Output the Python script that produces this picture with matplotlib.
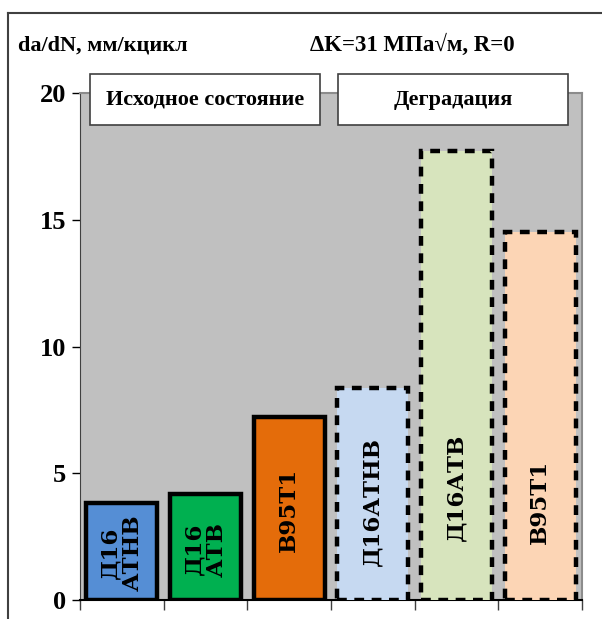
import matplotlib.pyplot as plt
from matplotlib.patches import Rectangle
from matplotlib.lines import Line2D

# Crack growth rate data (da/dN, мм/кцикл)
alloys = ["Д16\nАТНВ", "Д16\nАТВ", "В95Т1", "Д16АТНВ", "Д16АТВ", "В95Т1"]
rates = [3.83, 4.18, 7.2, 8.35, 17.7, 14.5]
states = ["Исходное состояние", "Деградация"]
y_ticks = [0, 5, 10, 15, 20]

fill_colors = ["#558ED5", "#00B050", "#E46C0A", "#C6D9F1", "#D7E4BD", "#FCD5B5"]
edge_styles = ["solid", "solid", "solid", (0, (2.2, 1.7)), (0, (2.2, 1.7)), (0, (2.2, 1.7))]
label_y = [1.85, 2.0, 3.55, 3.87, 4.46, 3.87]

W, H = 602, 619
fig = plt.figure(figsize=(W / 100, H / 100), dpi=100)
fig.patch.set_facecolor("white")

ax = fig.add_axes([80 / W, 1 - 600 / H, (582 - 80) / W, (600 - 93) / H])
ax.set_facecolor("#C0C0C0")

x = list(range(len(rates)))
for i, (v, fc, ls) in enumerate(zip(rates, fill_colors, edge_styles)):
    ax.bar(x[i], v, width=0.85, color=fc, edgecolor="black", linewidth=3.2,
           linestyle=ls, zorder=3)
    ax.text(x[i], label_y[i], alloys[i], rotation=90, ha="center", va="center",
            family="DejaVu Serif", fontweight="bold", fontsize=16.5,
            linespacing=1.0, zorder=4)

ax.set_xlim(-0.5, len(rates) - 0.5)
ax.set_ylim(0, 20)
ax.set_yticks(y_ticks)
ax.set_yticklabels([str(t) for t in y_ticks], family="Liberation Serif",
                   fontweight="bold", fontsize=19)
ax.tick_params(axis="y", direction="out", length=6, width=1, pad=4, color="black")
ax.set_xticks([i - 0.5 for i in range(len(rates) + 1)])
ax.set_xticklabels([])
ax.tick_params(axis="x", direction="out", length=7, width=1, color="#404040")

for side in ("top", "right"):
    ax.spines[side].set_color("#8C8C8C")
    ax.spines[side].set_linewidth(1.5)
ax.spines["left"].set_color("#404040")
ax.spines["bottom"].set_color("black")
ax.spines["bottom"].set_linewidth(1.5)

# Outer frame lines
fig.add_artist(Line2D([8 / W, 1.0], [1 - 13 / H, 1 - 13 / H], color="#404040",
                      linewidth=1.5, transform=fig.transFigure))
fig.add_artist(Line2D([8 / W, 8 / W], [1 - 13 / H, 0], color="#404040",
                      linewidth=1.5, transform=fig.transFigure))

# Header texts
fig.text(18 / W, 1 - 45 / H, "da/dN, мм/кцикл", family="Liberation Serif",
         fontweight="bold", fontsize=16, ha="left", va="center")
fig.text(412 / W, 1 - 45 / H, "ΔK=31 МПа√м, R=0", family="Liberation Serif",
         fontweight="bold", fontsize=16.5, ha="center", va="center")

# State boxes above bars
boxes = [(90, 320), (338, 568)]
for (x0, x1), label in zip(boxes, states):
    fig.add_artist(Rectangle((x0 / W, 1 - 125 / H), (x1 - x0) / W, 51 / H,
                             facecolor="white", edgecolor="#404040", linewidth=1.2,
                             transform=fig.transFigure, zorder=5))
    fig.text((x0 + x1) / 2 / W, 1 - 100 / H, label, family="Liberation Serif",
             fontweight="bold", fontsize=16, ha="center", va="center", zorder=6)

fig.savefig("out.png", dpi=100)
